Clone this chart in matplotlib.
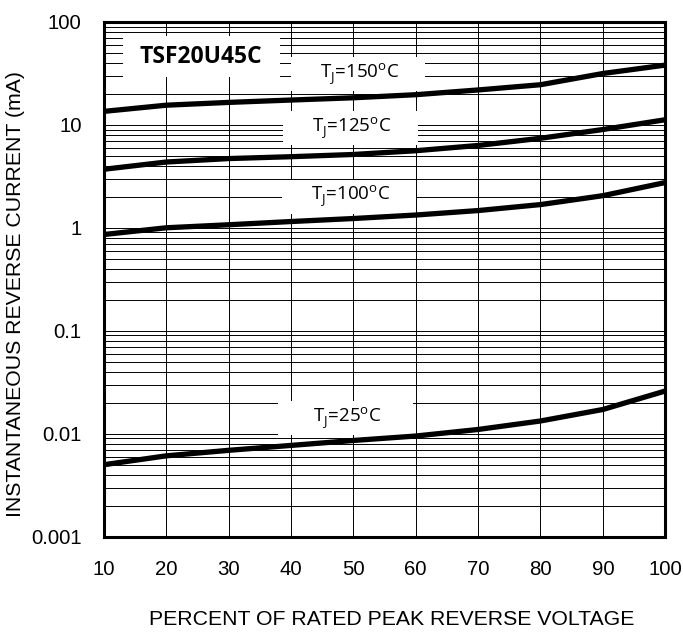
import matplotlib
matplotlib.use("Agg")
import matplotlib.pyplot as plt
from matplotlib.patches import Rectangle
from matplotlib.ticker import FixedLocator, NullFormatter

# percent of rated peak reverse voltage
pct = [10, 20, 30, 40, 50, 60, 70, 80, 90, 100]

# instantaneous reverse current (mA)
i_150 = [13.5, 15.5, 16.5, 17.4, 18.3, 19.6, 21.8, 24.5, 31.5, 38.0]
i_125 = [3.7, 4.35, 4.7, 4.9, 5.15, 5.6, 6.3, 7.4, 9.0, 11.2]
i_100 = [0.86, 1.0, 1.07, 1.15, 1.23, 1.33, 1.47, 1.68, 2.05, 2.75]
i_25 = [0.0050, 0.0061, 0.0069, 0.0077, 0.0086, 0.0095, 0.011, 0.0133, 0.0172, 0.026]

curves = [i_150, i_125, i_100, i_25]
labels = [r"T$_\mathregular{J}$=150$^\mathregular{o}$C",
          r"T$_\mathregular{J}$=125$^\mathregular{o}$C",
          r"T$_\mathregular{J}$=100$^\mathregular{o}$C",
          r"T$_\mathregular{J}$=25$^\mathregular{o}$C"]
label_pos = [(51.0, 31), (49.8, 9.3), (49.6, 2.0), (49.0, 0.0142)]

xticks = [10, 20, 30, 40, 50, 60, 70, 80, 90, 100]
yticks = [0.001, 0.01, 0.1, 1, 10, 100]
ytick_labels = ["0.001", "0.01", "0.1", "1", "10", "100"]

axis_font = ["Liberation Sans", "DejaVu Sans"]
label_font = ["Open Sans", "DejaVu Sans"]

plt.rcParams["mathtext.fontset"] = "custom"
plt.rcParams["mathtext.rm"] = "Open Sans"

fig = plt.figure(figsize=(6.83, 6.42), dpi=100)
ax = fig.add_axes([0.152, 0.164, 0.822, 0.802])

ax.set_yscale("log")
ax.set_xlim(10, 100)
ax.set_ylim(0.001, 100)

# grid: vertical every 10 %, horizontal at every minor decade step
minor = [m * 10.0 ** d for d in range(-3, 2) for m in range(2, 10)]
ax.yaxis.set_minor_locator(FixedLocator(minor))
ax.yaxis.set_minor_formatter(NullFormatter())
ax.set_xticks(xticks)
ax.set_yticks(yticks)
ax.set_yticklabels(ytick_labels)
ax.grid(True, which="both", color="black", linewidth=0.7)
ax.set_axisbelow(True)
ax.tick_params(which="both", length=0)
ax.tick_params(axis="x", pad=17)
ax.tick_params(axis="y", pad=16)
for t in ax.get_xticklabels() + ax.get_yticklabels():
    t.set_family(axis_font)
    t.set_fontsize(14.7)

for s in ax.spines.values():
    s.set_linewidth(2.2)

for c in curves:
    ax.plot(pct, c, color="black", linewidth=3.8, solid_capstyle="butt", zorder=3)

# white boxes behind the curve labels (about 21 % wide, 0.34 decade tall)
for lab, (x, y) in zip(labels, label_pos):
    ax.add_patch(Rectangle((x - 11.0, y / 1.47), 21.5, y * 1.47 - y / 1.47,
                           facecolor="white", edgecolor="none", zorder=2.5))
    ax.text(x, y, lab, fontsize=13.5, family=label_font, ha="center", va="center",
            zorder=4)

tx, ty = 25.6, 46.0
ax.add_patch(Rectangle((tx - 12.6, ty / 1.58), 25.2, ty * 1.58 - ty / 1.58,
                       facecolor="white", edgecolor="none", zorder=2.5))
ax.text(tx, ty, "TSF20U45C", fontsize=16.5, fontweight="bold", family=label_font,
        ha="center", va="center", zorder=4)

ax.set_xlabel("PERCENT OF RATED PEAK REVERSE VOLTAGE", family=axis_font,
              fontsize=15.3)
ax.xaxis.set_label_coords(0.513, -0.142)
ax.set_ylabel("INSTANTANEOUS REVERSE CURRENT (mA)", family=axis_font,
              fontsize=15.3)
ax.yaxis.set_label_coords(-0.14, 0.472)

fig.savefig("out.png", dpi=100)
